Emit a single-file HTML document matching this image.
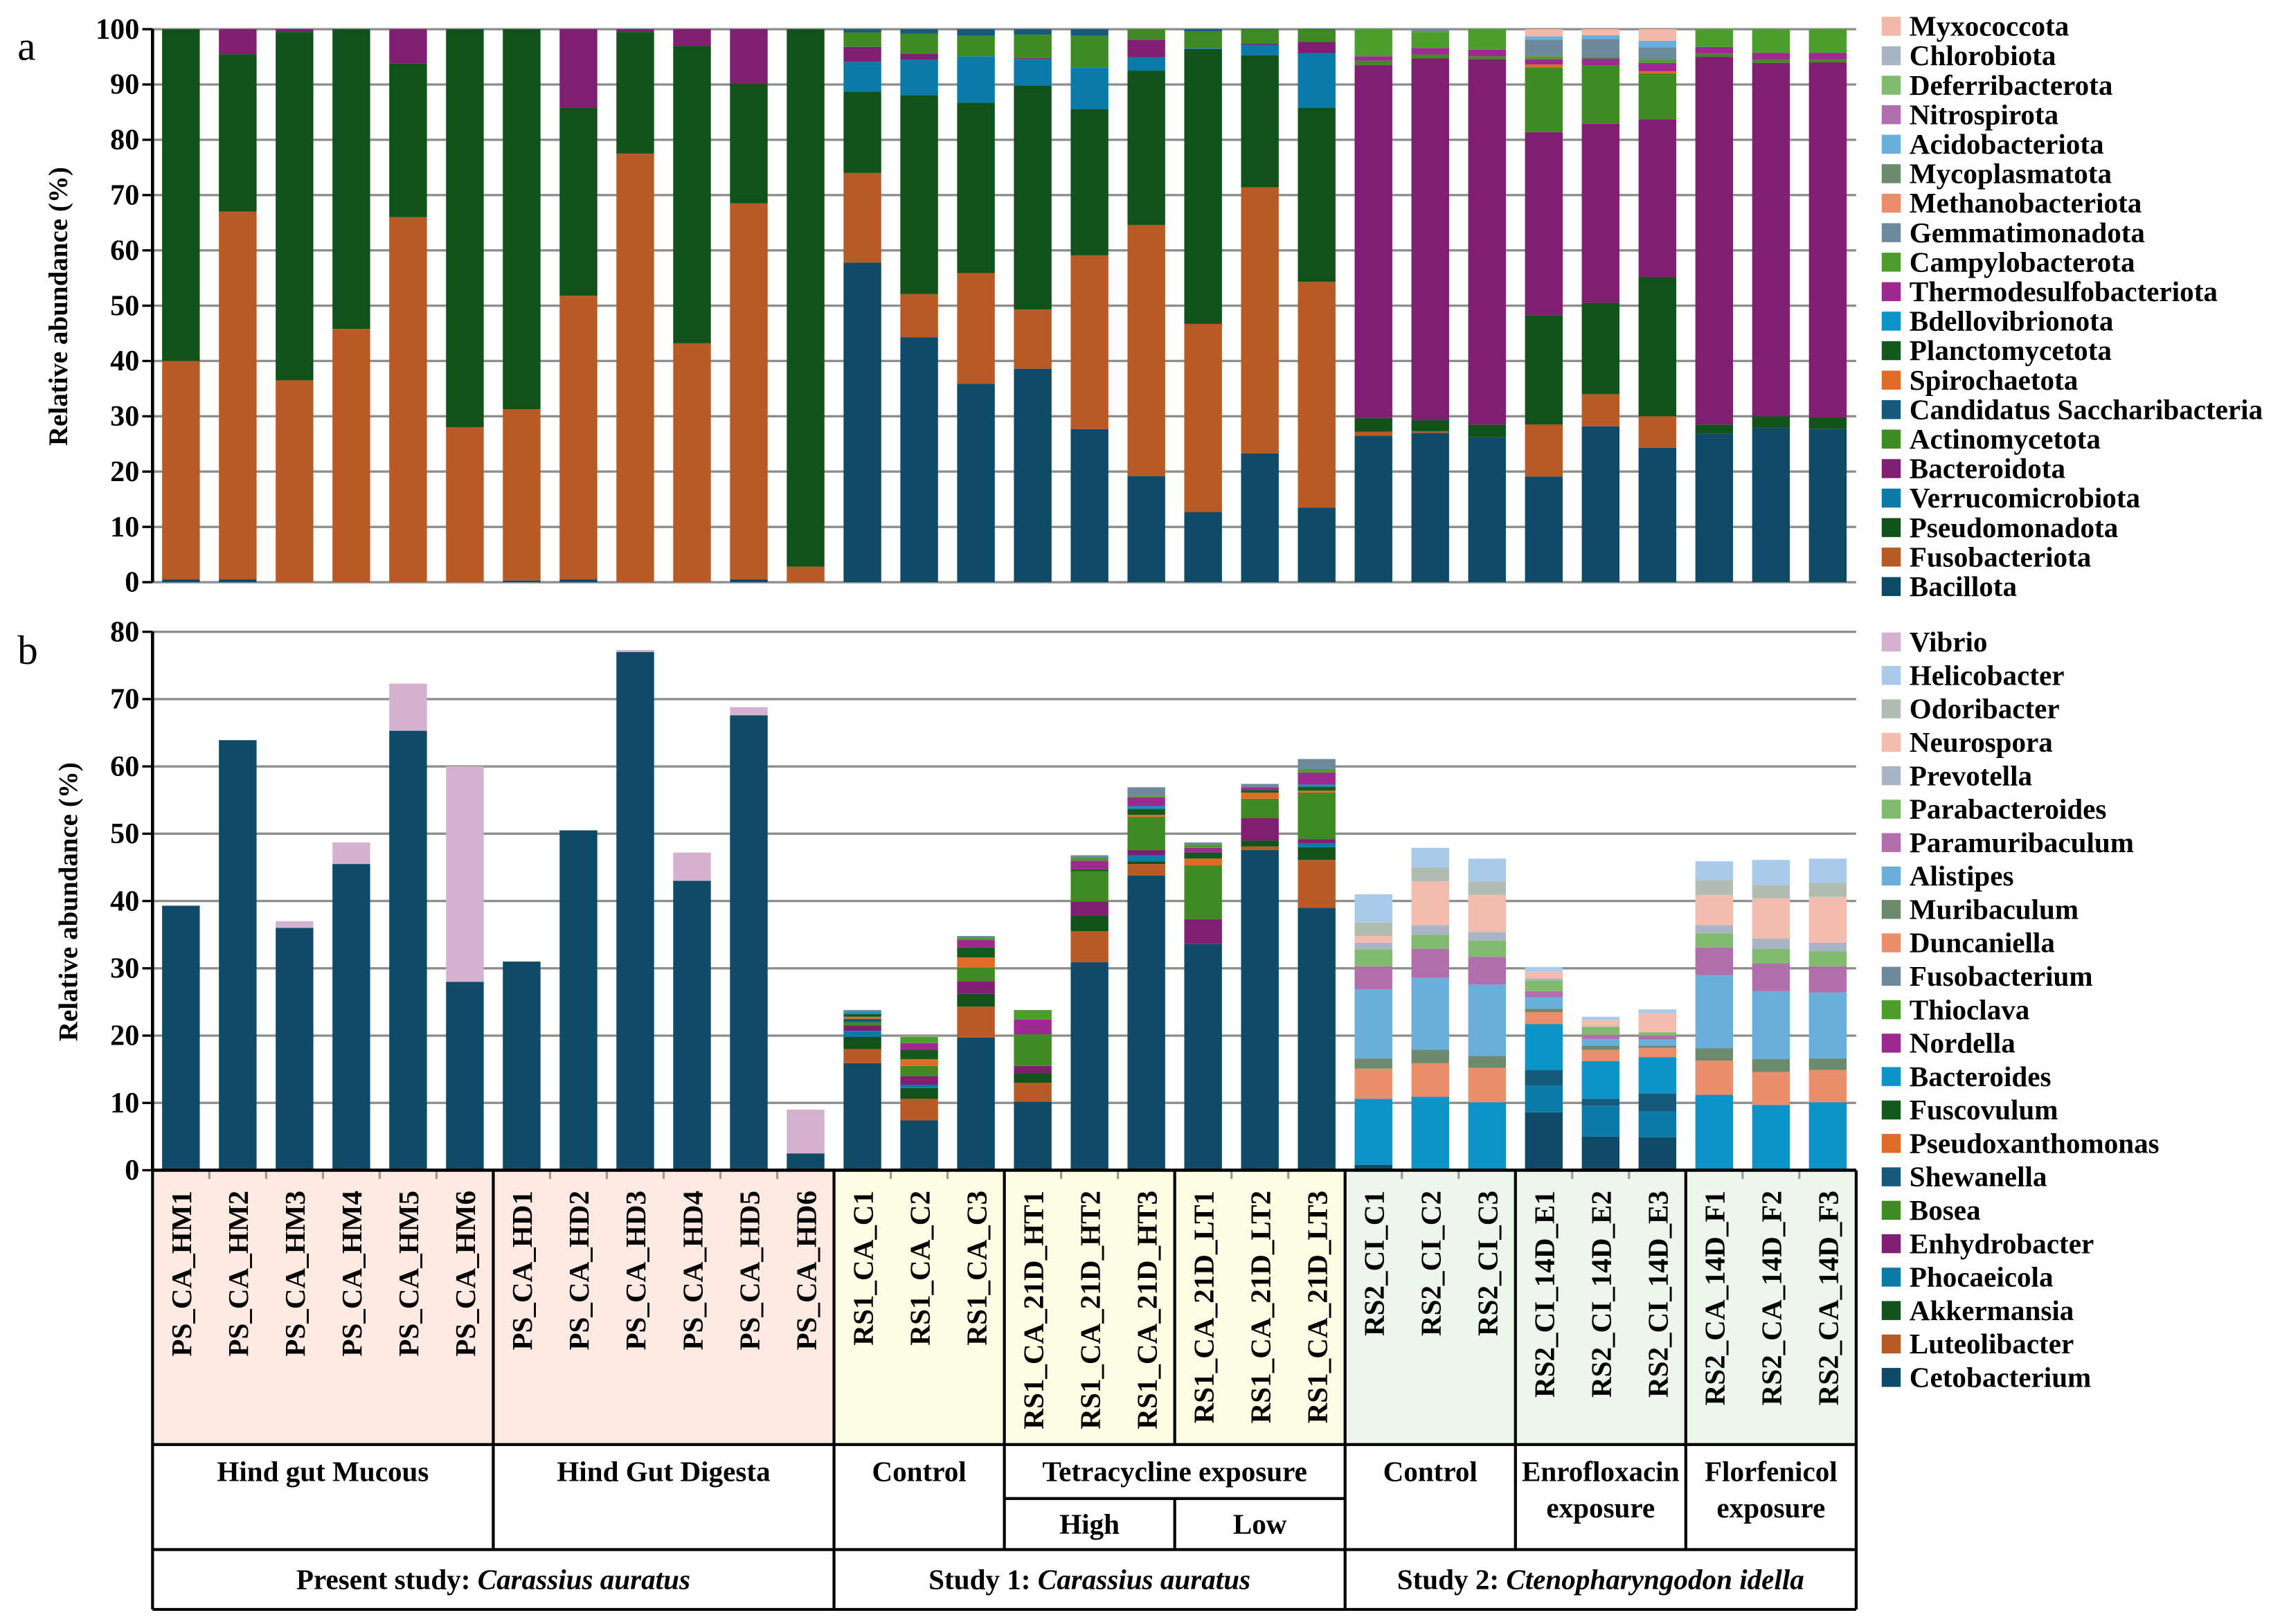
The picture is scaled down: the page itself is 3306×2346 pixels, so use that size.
<!DOCTYPE html>
<html><head><meta charset="utf-8"><style>
html,body{margin:0;padding:0;background:#fff;}
svg{display:block;}
text{font-family:"Liberation Serif",serif;font-weight:bold;fill:#000;}
</style></head><body>
<svg id="fig" xmlns="http://www.w3.org/2000/svg" width="3306" height="2346" viewBox="0 0 1568 1113" preserveAspectRatio="none">
<g id="bgLayer"></g>
<g id="gridA"></g><g id="barsA"></g><g id="axisA"></g><g id="legendA"></g>
<g id="gridB"></g><g id="barsB"></g><g id="axisB"></g><g id="legendB"></g>
<g id="table"></g>
</svg>
<script>
// ---------- DATA ----------
const samples = ["PS_CA_HM1","PS_CA_HM2","PS_CA_HM3","PS_CA_HM4","PS_CA_HM5","PS_CA_HM6","PS_CA_HD1","PS_CA_HD2","PS_CA_HD3","PS_CA_HD4","PS_CA_HD5","PS_CA_HD6","RS1_CA_C1","RS1_CA_C2","RS1_CA_C3","RS1_CA_21D_HT1","RS1_CA_21D_HT2","RS1_CA_21D_HT3","RS1_CA_21D_LT1","RS1_CA_21D_LT2","RS1_CA_21D_LT3","RS2_CI_C1","RS2_CI_C2","RS2_CI_C3","RS2_CI_14D_E1","RS2_CI_14D_E2","RS2_CI_14D_E3","RS2_CA_14D_F1","RS2_CA_14D_F2","RS2_CA_14D_F3"];
const ticksA = [0,10,20,30,40,50,60,70,80,90,100];
const ticksB = [0,10,20,30,40,50,60,70,80];

// Panel a (phyla), stacking bottom -> top
const A_Bacillota = [0.5,0.5,0,0,0,0,0.3,0.5,0,0,0.5,0, 57.8,44.3,35.9,38.6,27.7,19.2,12.7,23.3,13.5, 26.5,27.0,26.2,19.1,28.2,24.3,26.9,27.9,27.7];
const A_Fusobacteriota = [39.5,66.5,36.5,45.8,66,28,31,51.3,77.5,43.2,68,2.8, 16.2,7.8,20.0,10.7,31.4,45.4,34.0,48.1,40.8, 0.7,0.3,0,9.4,5.8,5.7,0,0,0];
const A_Pseudomonadota = [60,28.5,63,54.2,27.8,72,68.7,34,22,53.8,21.7,97.2, 14.7,36.0,30.8,40.5,26.4,27.9,49.7,23.9,31.5, 2.5,2.0,2.3,19.8,16.5,25.2,1.6,2.1,2.1];
const A_Verrucomicrobiota = [0,0,0,0,0,0,0,0,0,0,0,0, 5.4,6.4,8.4,4.8,7.6,2.4,0.2,1.9,9.9, 0,0,0,0,0,0,0,0,0];
const A_Bacteroidota = [0,4.5,0.5,0,6.2,0,0,14.2,0.5,3,9.8,0, 2.7,1.1,0,0.2,0,3.2,0,0.2,2.0, 63.8,65.4,66.1,33.1,32.4,28.5,66.5,63.9,64.2];
const A_Actinomycetota = [0,0,0,0,0,0,0,0,0,0,0,0, 2.6,3.6,3.7,4.2,5.7,1.9,3.0,2.5,2.2, 0.8,0.7,0.5,11.7,10.6,8.3,0.6,0.6,0.5];
const A_Candidatus = [0,0,0,0,0,0,0,0,0,0,0,0, 0.6,0.8,1.2,1.0,1.2,0,0.4,0.1,0.1, 0,0,0,0,0,0,0,0,0];
const A_Spirochaetota = [0,0,0,0,0,0,0,0,0,0,0,0, 0,0,0,0,0,0,0,0,0, 0,0,0,0.5,0,0.4,0,0,0];
const A_Thermodesulfo = [0,0,0,0,0,0,0,0,0,0,0,0, 0,0,0,0,0,0,0,0,0, 0.8,1.2,1.2,1.0,1.2,1.5,1.2,1.2,1.2];
const A_Campylobacterota = [0,0,0,0,0,0,0,0,0,0,0,0, 0,0,0,0,0,0,0,0,0, 4.9,2.9,3.7,0.5,0.3,0.6,3.2,4.3,4.3];
const A_Gemmatimonadota = [0,0,0,0,0,0,0,0,0,0,0,0, 0,0,0,0,0,0,0,0,0, 0,0.5,0,3.0,3.2,2.2,0,0,0];
const A_Acidobacteriota = [0,0,0,0,0,0,0,0,0,0,0,0, 0,0,0,0,0,0,0,0,0, 0,0,0,0.6,0.7,1.2,0,0,0];
const A_Myxococcota = [0,0,0,0,0,0,0,0,0,0,0,0, 0,0,0,0,0,0,0,0,0, 0,0,0,1.3,1.1,2.1,0,0,0];

const seriesA = [
 ["Bacillota","#0f4a67",A_Bacillota],["Fusobacteriota","#b85a26",A_Fusobacteriota],
 ["Pseudomonadota","#11521a",A_Pseudomonadota],["Verrucomicrobiota","#0a7aa8",A_Verrucomicrobiota],
 ["Bacteroidota","#801f72",A_Bacteroidota],["Actinomycetota","#3f8a22",A_Actinomycetota],
 ["Candidatus Saccharibacteria","#155a7a",A_Candidatus],["Spirochaetota","#e06a26",A_Spirochaetota],
 ["Planctomycetota","#135a1c",null],["Bdellovibrionota","#0d93c8",null],
 ["Thermodesulfobacteriota","#9c2a90",A_Thermodesulfo],["Campylobacterota","#4b9e2c",A_Campylobacterota],
 ["Gemmatimonadota","#6e889c",A_Gemmatimonadota],["Methanobacteriota","#ea8e6c",null],
 ["Mycoplasmatota","#6c8a6c",null],["Acidobacteriota","#6aafdc",A_Acidobacteriota],
 ["Nitrospirota","#b06eaa",null],["Deferribacterota","#7fba6e",null],
 ["Chlorobiota","#a9b5c5",null],["Myxococcota","#f2b8a8",A_Myxococcota]
];

// Panel b (genera)
const B_Cetobacterium = [39.3,63.9,36,45.5,65.3,28,31,50.5,77,43,67.6,2.5, 15.9,7.4,19.7,10.2,30.9,43.8,33.6,47.6,39.0, 0.8,0,0,8.6,5.0,4.9,0,0,0];
const B_Luteolibacter = [0,0,0,0,0,0,0,0,0,0,0,0, 2.1,3.2,4.6,2.8,4.6,1.7,0,0.5,7.1, 0,0,0,0,0,0,0,0,0];
const B_Akkermansia = [0,0,0,0,0,0,0,0,0,0,0,0, 1.8,1.6,1.9,1.4,2.3,0.4,0,0.9,1.9, 0,0,0,0,0,0,0,0,0];
const B_Phocaeicola = [0,0,0,0,0,0,0,0,0,0,0,0, 0.9,0.5,0,0,0,0.9,0,0,0.6, 0,0,0,4.0,4.6,3.8,0,0,0];
const B_Enhydrobacter = [0,0,0,0,0,0,0,0,0,0,0,0, 0.8,1.3,1.9,1.1,2.1,0.8,3.7,3.3,0.6, 0,0,0,0,0,0,0,0,0];
const B_Bosea = [0,0,0,0,0,0,0,0,0,0,0,0, 0.5,1.5,2.0,4.7,4.5,4.9,8.0,2.9,6.9, 0,0,0,0,0,0,0,0,0];
const B_Shewanella = [0,0,0,0,0,0,0,0,0,0,0,0, 0.5,0,0,0,0,0,0,0,0, 0,0,0,2.3,1.0,2.7,0,0,0];
const B_Pseudoxanthomonas = [0,0,0,0,0,0,0,0,0,0,0,0, 0.3,1.0,1.5,0,0,0.3,1.0,0.9,0.3, 0,0,0,0,0,0,0,0,0];
const B_Fuscovulum = [0,0,0,0,0,0,0,0,0,0,0,0, 0.4,1.4,1.5,0,0.3,0.9,0.9,0.4,0.6, 0,0,0,0,0,0,0,0,0];
const B_Bacteroides = [0,0,0,0,0,0,0,0,0,0,0,0, 0.3,0,0,0,0,0.4,0,0,0.3, 9.8,10.9,10.1,6.8,5.6,5.4,11.2,9.7,10.1];
const B_Nordella = [0,0,0,0,0,0,0,0,0,0,0,0, 0,1.0,1.1,2.2,1.3,1.3,0.7,0.4,1.8, 0,0,0,0,0,0,0,0,0];
const B_Thioclava = [0,0,0,0,0,0,0,0,0,0,0,0, 0,0.9,0.4,1.4,0.5,0.2,0.5,0,0.5, 0,0,0,0,0,0,0,0,0];
const B_Fusobacterium = [0,0,0,0,0,0,0,0,0,0,0,0, 0.3,0,0.2,0,0.3,1.3,0.3,0.5,1.5, 0,0,0,0,0,0,0,0,0];
const B_Duncaniella = [0,0,0,0,0,0,0,0,0,0,0,0, 0,0,0,0,0,0,0,0,0, 4.5,5.0,5.1,1.8,1.7,1.4,5.1,4.9,4.8];
const B_Muribaculum = [0,0,0,0,0,0,0,0,0,0,0,0, 0,0,0,0,0,0,0,0,0, 1.5,2.0,1.8,0.5,0.6,0.3,1.8,1.9,1.7];
const B_Alistipes = [0,0,0,0,0,0,0,0,0,0,0,0, 0,0,0,0,0,0,0,0,0, 10.3,10.7,10.6,1.7,1.0,0.9,10.9,10.1,9.8];
const B_Paramuribaculum = [0,0,0,0,0,0,0,0,0,0,0,0, 0,0,0,0,0,0,0,0,0, 3.4,4.3,4.1,0.9,0.6,0.6,4.1,4.1,3.9];
const B_Parabacteroides = [0,0,0,0,0,0,0,0,0,0,0,0, 0,0,0,0,0,0,0,0,0, 2.5,2.1,2.4,1.6,1.2,0.5,2.1,2.2,2.2];
const B_Prevotella = [0,0,0,0,0,0,0,0,0,0,0,0, 0,0,0,0,0,0,0,0,0, 1.0,1.4,1.3,0.3,0.1,0,1.2,1.5,1.3];
const B_Neurospora = [0,0,0,0,0,0,0,0,0,0,0,0, 0,0,0,0,0,0,0,0,0, 1.0,6.5,5.5,1.0,0.9,2.8,4.5,6.0,6.8];
const B_Odoribacter = [0,0,0,0,0,0,0,0,0,0,0,0, 0,0,0,0,0,0,0,0,0, 2.0,2.1,2.0,0,0,0,2.2,2.0,2.1];
const B_Helicobacter = [0,0,0,0,0,0,0,0,0,0,0,0, 0,0,0,0,0,0,0,0,0, 4.2,2.9,3.4,0.7,0.5,0.6,2.8,3.7,3.6];
const B_Vibrio = [0,0,1,3.2,7,32,0,0,0.3,4.2,1.2,6.5, 0,0,0,0,0,0,0,0,0, 0,0,0,0,0,0,0,0,0];

const seriesB = [
 ["Cetobacterium","#0f4a67",B_Cetobacterium],["Luteolibacter","#b85a26",B_Luteolibacter],
 ["Akkermansia","#11521a",B_Akkermansia],["Phocaeicola","#0a7aa8",B_Phocaeicola],
 ["Enhydrobacter","#801f72",B_Enhydrobacter],["Bosea","#3f8a22",B_Bosea],
 ["Shewanella","#155a7a",B_Shewanella],["Pseudoxanthomonas","#e06a26",B_Pseudoxanthomonas],
 ["Fuscovulum","#135a1c",B_Fuscovulum],["Bacteroides","#0d93c8",B_Bacteroides],
 ["Nordella","#9c2a90",B_Nordella],["Thioclava","#4b9e2c",B_Thioclava],
 ["Fusobacterium","#6e889c",B_Fusobacterium],["Duncaniella","#ea8e6c",B_Duncaniella],
 ["Muribaculum","#6c8a6c",B_Muribaculum],["Alistipes","#6aafdc",B_Alistipes],
 ["Paramuribaculum","#b06eaa",B_Paramuribaculum],["Parabacteroides","#7fba6e",B_Parabacteroides],
 ["Prevotella","#a9b5c5",B_Prevotella],["Neurospora","#f2bcae",B_Neurospora],
 ["Odoribacter","#b0bdb0",B_Odoribacter],["Helicobacter","#a9cbe9",B_Helicobacter],
 ["Vibrio","#d4b2cf",B_Vibrio]
];

// ---------- GEOMETRY ----------
const NS="http://www.w3.org/2000/svg";
const X0=104.5, STEP=38.9, BW=25.8, XR=X0+30*STEP;
const A0=399, A100=20, B0=802, B80=433;
const xC = i => X0 + STEP*(i+0.5);
const yA = v => A0 - (A0-A100)*v/100;
const yB = v => B0 - (B0-B80)*v/80;
function mk(tag, attrs, parent){const e=document.createElementNS(NS,tag);for(const k in attrs)e.setAttribute(k,attrs[k]);parent.appendChild(e);return e;}
const $=id=>document.getElementById(id);

function grid(g, ticks, yf){
  ticks.forEach(t=>{
    const l=mk("line",{x1:X0,x2:XR,y1:yf(t),y2:yf(t),stroke:"#8e8e8e","stroke-width":1.6},g);
    
    
  });
}
function axis(g, ticks, yf, top, bottom, title, tcx, tcy, panel){
  const a=mk("line",{x1:X0,x2:X0,y1:top,y2:bottom,stroke:"#000","stroke-width":2.2},g);
  
  
  ticks.forEach(t=>{
    mk("line",{x1:X0-7,x2:X0,y1:yf(t),y2:yf(t),stroke:"#000","stroke-width":1.6},g);
    const tx=mk("text",{x:X0-9,y:yf(t)+6.5,"text-anchor":"end","font-size":20},g);
    tx.textContent=t;
    
    
  });
  const tt=mk("text",{x:0,y:0,"text-anchor":"middle","font-size":18.5,transform:`translate(${tcx},${tcy}) rotate(-90)`},g);
  tt.textContent=title;
  
  
}
function bars(g, series, yf, panel){
  samples.forEach((s,i)=>{
    let cum=0;
    series.forEach(([name,col,vals])=>{
      if(!vals) return;
      const v=vals[i]; if(!v) return;
      const y1=yf(cum+v), y2=yf(cum);
      const r=mk("rect",{x:xC(i)-BW/2,y:y1,width:BW,height:Math.max(0,y2-y1),fill:col},g);
      
      
      cum+=v;
    });
  });
}
function legend(g, series, yTop, yBot, panel){
  const n=series.length, sp=(yBot-yTop)/(n-1);
  series.slice().reverse().forEach(([name,col],k)=>{
    const y=yTop+k*sp;
    const gg=mk("g",{},g);
    
    
    mk("rect",{x:1289,y:y-6.5,width:13,height:13,fill:col},gg);
    const t=mk("text",{x:1308,y:y+6.5,"font-size":19.5},gg);
    t.textContent=name;
  });
}

// Panel a
grid($("gridA"), ticksA.slice(1), yA);
mk("line",{x1:X0,x2:XR,y1:A0,y2:A0,stroke:"#8e8e8e","stroke-width":1.6},$("gridA"));
bars($("barsA"), seriesA, yA, "a");
axis($("axisA"), ticksA, yA, A100, A0, "Relative abundance (%)", 46, 210, "a");
legend($("legendA"), seriesA, 18, 402, "a");
// Panel b
grid($("gridB"), ticksB.slice(1), yB);
bars($("barsB"), seriesB, yB, "b");
axis($("axisB"), ticksB, yB, B80, B0, "Relative abundance (%)", 53, 618, "b");
legend($("legendB"), seriesB, 440, 944, "b");

// panel letters
[["a",12,41],["b",12,455]].forEach(([t,x,y])=>{
  const e=mk("text",{x:x,y:y,"font-size":28,style:"font-weight:normal"},$("axisA"));
  e.textContent=t;
  
  
});

// ---------- TABLE ----------
const T=$("table"), bg=$("bgLayer");
const R0=802, R1=990, RSUB=1027, R2=1062, R3=1103;
const bx = k => X0 + k*STEP;
[[0,12,"#fce9e1"],[12,21,"#fdfde3"],[21,30,"#edf6ea"]].forEach(([a,b,c],j)=>{
  const r=mk("rect",{x:bx(a),y:R0,width:bx(b)-bx(a),height:R1-R0,fill:c},bg);
  
  
});
for(let k=1;k<30;k++) mk("line",{x1:bx(k),x2:bx(k),y1:R0,y2:R0+6,stroke:"#999","stroke-width":1.5},T);
samples.forEach((s,i)=>{
  const t=mk("text",{x:0,y:0,"text-anchor":"end","font-size":19.5,transform:`translate(${xC(i)+7},${R0+14}) rotate(-90)`},T);
  t.textContent=s;
  
  
});
const ln=(x1,y1,x2,y2,w)=>mk("line",{x1,y1,x2,y2,stroke:"#000","stroke-width":w||2},T);
ln(X0,R0,XR,R0,2.2); ln(X0,R1,XR,R1); ln(X0,R2,XR,R2); ln(X0,R3,XR,R3);
ln(X0,R0,X0,R3); ln(XR,R0,XR,R3);
[6,15,24,27].forEach(k=>ln(bx(k),R0,bx(k),R2));
[12,21].forEach(k=>ln(bx(k),R0,bx(k),R3));
ln(bx(18),R0,bx(18),R1);
ln(bx(18),RSUB,bx(18),R2); ln(bx(15),RSUB,bx(21),RSUB);
function txt(str,x,y,name,italicPart){
  const t=mk("text",{x:x,y:y,"text-anchor":"middle","font-size":19.5},T);
  t.textContent=str;
  if(italicPart){const ts=mk("tspan",{"font-style":"italic"},t);ts.textContent=italicPart;}
  
  
  return t;
}
const mid=(a,b)=>(bx(a)+bx(b))/2;
txt("Hind gut Mucous",mid(0,6),1015,"group-hind-gut-mucous");
txt("Hind Gut Digesta",mid(6,12),1015,"group-hind-gut-digesta");
txt("Control",mid(12,15),1015,"group-rs1-control");
txt("Tetracycline exposure",mid(15,21),1015,"group-tetracycline-exposure");
txt("High",mid(15,18),1051,"group-high");
txt("Low",mid(18,21),1051,"group-low");
txt("Control",mid(21,24),1015,"group-rs2-control");
txt("Enrofloxacin",mid(24,27),1015,"group-enrofloxacin");
txt("exposure",mid(24,27),1040,"group-enrofloxacin-exposure");
txt("Florfenicol",mid(27,30),1015,"group-florfenicol");
txt("exposure",mid(27,30),1040,"group-florfenicol-exposure");
txt("Present study: ",mid(0,12),1089,"study-present","Carassius auratus");
txt("Study 1: ",mid(12,21),1089,"study-1","Carassius auratus");
txt("Study 2: ",mid(21,30),1089,"study-2","Ctenopharyngodon idella");
</script>
</body></html>
